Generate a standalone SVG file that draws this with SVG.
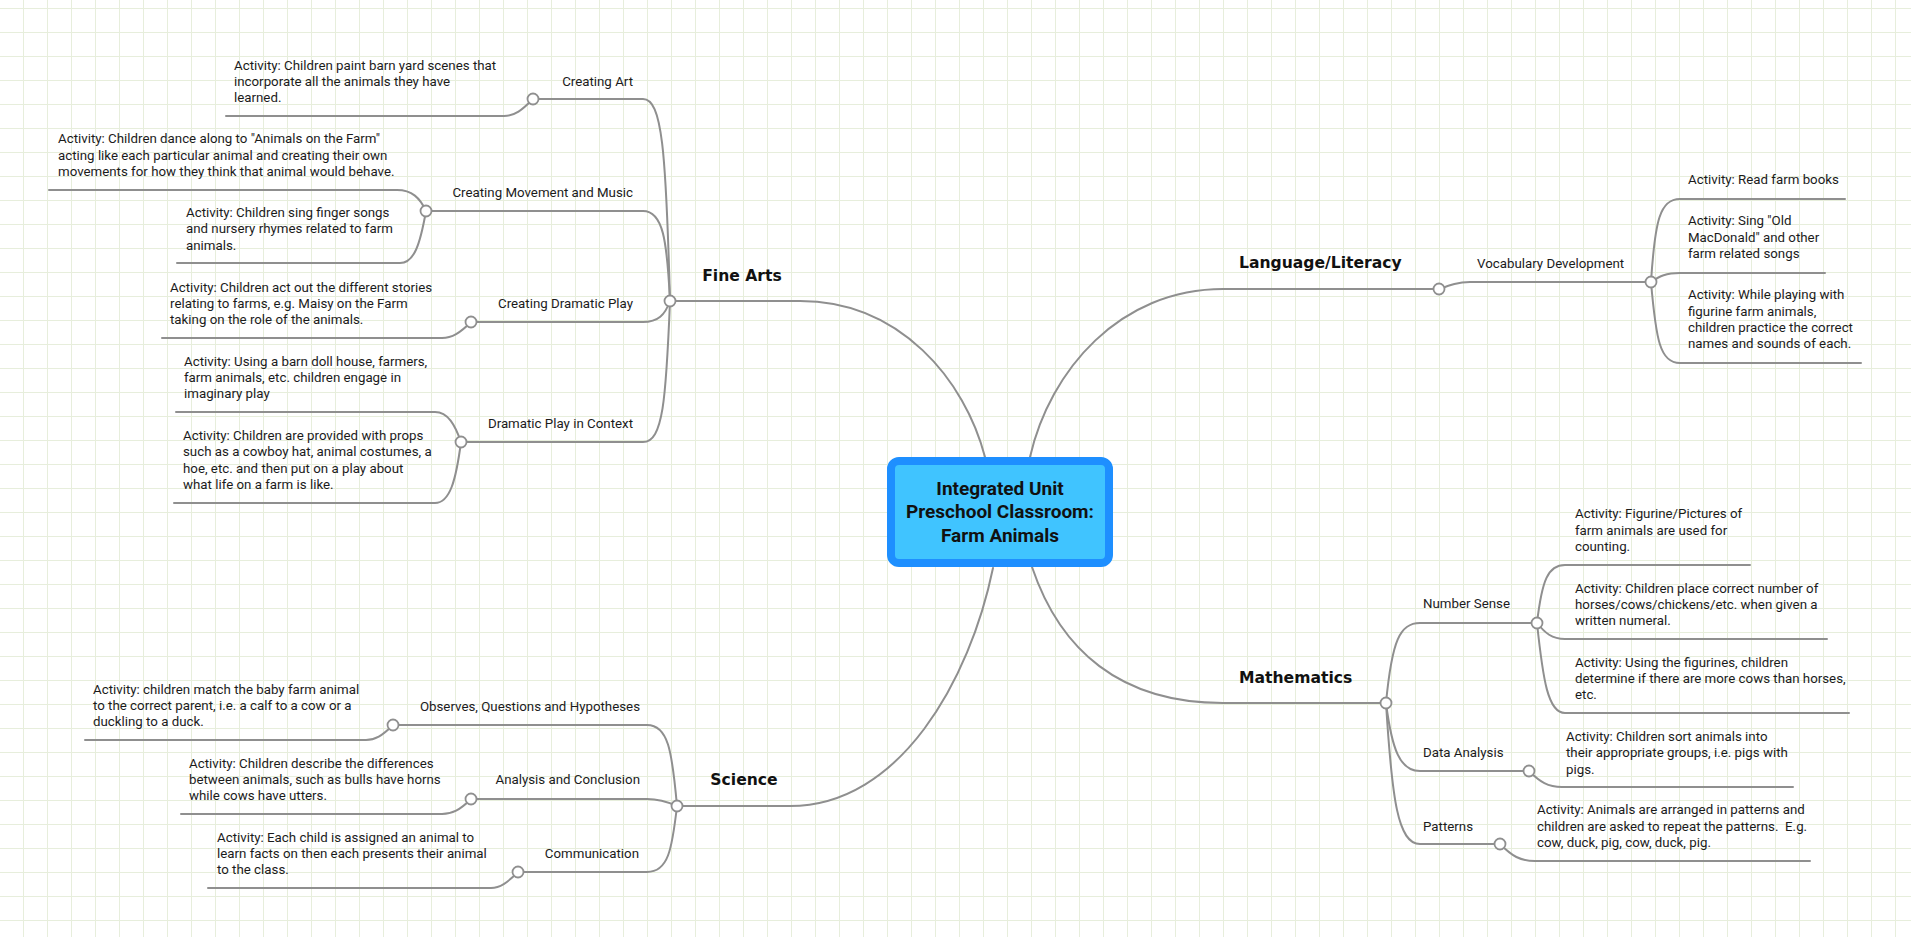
<svg xmlns="http://www.w3.org/2000/svg" width="1911" height="937" viewBox="0 0 1911 937">
<style>
.c{fill:none;stroke:#8f8f8f;stroke-width:2;stroke-linecap:round}
.k{fill:#fff;stroke:#8f8f8f;stroke-width:1.8}
.t{font-family:Roboto,"Liberation Sans",sans-serif;font-size:13.3px;fill:#1b1b1b}
.e{text-anchor:end}
.b{font-family:"DejaVu Sans","Liberation Sans",sans-serif;font-weight:bold;font-size:15.6px;fill:#111}
.r{font-family:Roboto,"Liberation Sans",sans-serif;font-weight:bold;font-size:19px;fill:#111;text-anchor:middle}
</style>
<defs>
<pattern id="grid" width="24" height="24" patternUnits="userSpaceOnUse" x="23" y="8">
<rect x="0" y="0" width="24" height="1" fill="#e7eedc"/>
<rect x="0" y="0" width="1" height="24" fill="#e7eedc"/>
</pattern>
</defs>
<rect width="1911" height="937" fill="#fff"/>
<rect width="1911" height="937" fill="url(#grid)"/>

<g id="connectors">
<path class="c" d="M670 301 H800 C900 301 965 380 985 457"/>
<path class="c" d="M677 806 H790 C900 806 970 680 993 568"/>
<path class="c" d="M1030 457 C1050 370 1120 289 1223 289 H1439"/>
<path class="c" d="M1032 567 C1060 650 1120 703 1223 703 H1386"/>

<path class="c" d="M670 301 C666 150 662 99 643 99 H533"/>
<path class="c" d="M533 99 C522 110 515 116 504 116 H226"/>
<path class="c" d="M670 301 C667 240 663 211 643 211 H426"/>
<path class="c" d="M426 211 C420 198 412 190 397 190 H49"/>
<path class="c" d="M426 211 C420 245 414 263 400 263 H177"/>
<path class="c" d="M670 301 C665 315 658 322 643 322 H471"/>
<path class="c" d="M471 322 C460 333 452 338 442 338 H162"/>
<path class="c" d="M670 301 C666 400 663 442 643 442 H461"/>
<path class="c" d="M461 442 C455 425 448 412 435 412 H176"/>
<path class="c" d="M461 442 C456 480 450 503 435 503 H174"/>

<path class="c" d="M677 806 C672 750 668 725 647 725 H393"/>
<path class="c" d="M393 725 C382 736 375 740 366 740 H85"/>
<path class="c" d="M677 806 C668 802 660 799 647 799 H471"/>
<path class="c" d="M471 799 C460 810 452 814 442 814 H181"/>
<path class="c" d="M677 806 C672 850 668 872 647 872 H518"/>
<path class="c" d="M518 872 C507 883 500 888 491 888 H208"/>

<path class="c" d="M1439 289 C1450 285 1458 282 1470 282 H1651"/>
<path class="c" d="M1651 282 C1655 220 1660 199 1680 199 H1845"/>
<path class="c" d="M1651 282 C1660 276 1666 273 1680 273 H1825"/>
<path class="c" d="M1651 282 C1656 340 1660 363 1680 363 H1861"/>

<path class="c" d="M1386 703 C1392 640 1400 623 1420 623 H1537"/>
<path class="c" d="M1386 703 C1392 750 1400 771 1420 771 H1529"/>
<path class="c" d="M1386 703 C1392 800 1398 844 1420 844 H1500"/>
<path class="c" d="M1537 623 C1542 580 1548 565 1565 565 H1750"/>
<path class="c" d="M1537 623 C1545 633 1552 639 1565 639 H1827"/>
<path class="c" d="M1537 623 C1543 680 1548 713 1565 713 H1849"/>
<path class="c" d="M1529 771 C1540 782 1548 787 1562 787 H1793"/>
<path class="c" d="M1500 844 C1512 856 1520 861 1535 861 H1810"/>
</g>

<g id="node-root">
<rect x="891" y="461" width="218" height="102" rx="8" fill="#40c4ff" stroke="#1e8fff" stroke-width="8"/>
<text class="r" x="1000" y="495">Integrated Unit</text>
<text class="r" x="1000" y="518">Preschool Classroom:</text>
<text class="r" x="1000" y="542">Farm Animals</text>
</g>

<g id="node-fine-arts">
<text class="b" x="742" y="281" text-anchor="middle">Fine Arts</text>
<circle class="k" cx="670" cy="301" r="5.5"/>
</g>
<g id="node-creating-art">
<text class="t e" x="633" y="86">Creating Art</text>
<circle class="k" cx="533" cy="99" r="5.5"/>
</g>
<g id="node-art-activity">
<text class="t" x="234" y="70">Activity: Children paint barn yard scenes that</text>
<text class="t" x="234" y="86">incorporate all the animals they have</text>
<text class="t" x="234" y="102">learned.</text>
</g>
<g id="node-movement">
<text class="t e" x="633" y="197">Creating Movement and Music</text>
<circle class="k" cx="426" cy="211" r="5.5"/>
</g>
<g id="node-movement-activity-1">
<text class="t" x="58" y="143">Activity: Children dance along to "Animals on the Farm"</text>
<text class="t" x="58" y="160">acting like each particular animal and creating their own</text>
<text class="t" x="58" y="176">movements for how they think that animal would behave.</text>
</g>
<g id="node-movement-activity-2">
<text class="t" x="186" y="217">Activity: Children sing finger songs</text>
<text class="t" x="186" y="233">and nursery rhymes related to farm</text>
<text class="t" x="186" y="249.5">animals.</text>
</g>
<g id="node-dramatic">
<text class="t e" x="633" y="308">Creating Dramatic Play</text>
<circle class="k" cx="471" cy="322" r="5.5"/>
</g>
<g id="node-dramatic-activity">
<text class="t" x="170" y="292">Activity: Children act out the different stories</text>
<text class="t" x="170" y="308">relating to farms, e.g. Maisy on the Farm</text>
<text class="t" x="170" y="324">taking on the role of the animals.</text>
</g>
<g id="node-context">
<text class="t e" x="633" y="428">Dramatic Play in Context</text>
<circle class="k" cx="461" cy="442" r="5.5"/>
</g>
<g id="node-context-activity-1">
<text class="t" x="184" y="366">Activity: Using a barn doll house, farmers,</text>
<text class="t" x="184" y="382">farm animals, etc. children engage in</text>
<text class="t" x="184" y="398">imaginary play</text>
</g>
<g id="node-context-activity-2">
<text class="t" x="183" y="440">Activity: Children are provided with props</text>
<text class="t" x="183" y="456">such as a cowboy hat, animal costumes, a</text>
<text class="t" x="183" y="472.5">hoe, etc. and then put on a play about</text>
<text class="t" x="183" y="489">what life on a farm is like.</text>
</g>

<g id="node-science">
<text class="b" x="744" y="785" text-anchor="middle">Science</text>
<circle class="k" cx="677" cy="806" r="5.5"/>
</g>
<g id="node-observes">
<text class="t e" x="640" y="711">Observes, Questions and Hypotheses</text>
<circle class="k" cx="393" cy="725" r="5.5"/>
</g>
<g id="node-observes-activity">
<text class="t" x="93" y="694">Activity: children match the baby farm animal</text>
<text class="t" x="93" y="710">to the correct parent, i.e. a calf to a cow or a</text>
<text class="t" x="93" y="726">duckling to a duck.</text>
</g>
<g id="node-analysis">
<text class="t e" x="640" y="784">Analysis and Conclusion</text>
<circle class="k" cx="471" cy="799" r="5.5"/>
</g>
<g id="node-analysis-activity">
<text class="t" x="189" y="768">Activity: Children describe the differences</text>
<text class="t" x="189" y="784">between animals, such as bulls have horns</text>
<text class="t" x="189" y="800">while cows have utters.</text>
</g>
<g id="node-communication">
<text class="t e" x="639" y="858">Communication</text>
<circle class="k" cx="518" cy="872" r="5.5"/>
</g>
<g id="node-communication-activity">
<text class="t" x="217" y="842">Activity: Each child is assigned an animal to</text>
<text class="t" x="217" y="858">learn facts on then each presents their animal</text>
<text class="t" x="217" y="874">to the class.</text>
</g>

<g id="node-language">
<text class="b" x="1239" y="268">Language/Literacy</text>
<circle class="k" cx="1439" cy="289" r="5.5"/>
</g>
<g id="node-vocabulary">
<text class="t" x="1477" y="268">Vocabulary Development</text>
<circle class="k" cx="1651" cy="282" r="5.5"/>
</g>
<g id="node-vocab-activity-1">
<text class="t" x="1688" y="184">Activity: Read farm books</text>
</g>
<g id="node-vocab-activity-2">
<text class="t" x="1688" y="225">Activity: Sing "Old</text>
<text class="t" x="1688" y="241.5">MacDonald" and other</text>
<text class="t" x="1688" y="258">farm related songs</text>
</g>
<g id="node-vocab-activity-3">
<text class="t" x="1688" y="299">Activity: While playing with</text>
<text class="t" x="1688" y="315.5">figurine farm animals,</text>
<text class="t" x="1688" y="332">children practice the correct</text>
<text class="t" x="1688" y="348">names and sounds of each.</text>
</g>

<g id="node-mathematics">
<text class="b" x="1239" y="683">Mathematics</text>
<circle class="k" cx="1386" cy="703" r="5.5"/>
</g>
<g id="node-number-sense">
<text class="t" x="1423" y="608">Number Sense</text>
<circle class="k" cx="1537" cy="623" r="5.5"/>
</g>
<g id="node-number-activity-1">
<text class="t" x="1575" y="518">Activity: Figurine/Pictures of</text>
<text class="t" x="1575" y="534.5">farm animals are used for</text>
<text class="t" x="1575" y="551">counting.</text>
</g>
<g id="node-number-activity-2">
<text class="t" x="1575" y="593">Activity: Children place correct number of</text>
<text class="t" x="1575" y="609">horses/cows/chickens/etc. when given a</text>
<text class="t" x="1575" y="625">written numeral.</text>
</g>
<g id="node-number-activity-3">
<text class="t" x="1575" y="667">Activity: Using the figurines, children</text>
<text class="t" x="1575" y="683">determine if there are more cows than horses,</text>
<text class="t" x="1575" y="699">etc.</text>
</g>
<g id="node-data-analysis">
<text class="t" x="1423" y="757">Data Analysis</text>
<circle class="k" cx="1529" cy="771" r="5.5"/>
</g>
<g id="node-data-activity">
<text class="t" x="1566" y="741">Activity: Children sort animals into</text>
<text class="t" x="1566" y="757">their appropriate groups, i.e. pigs with</text>
<text class="t" x="1566" y="774">pigs.</text>
</g>
<g id="node-patterns">
<text class="t" x="1423" y="831">Patterns</text>
<circle class="k" cx="1500" cy="844" r="5.5"/>
</g>
<g id="node-patterns-activity">
<text class="t" x="1537" y="814">Activity: Animals are arranged in patterns and</text>
<text class="t" x="1537" y="831" style="white-space:pre">children are asked to repeat the patterns.  E.g.</text>
<text class="t" x="1537" y="847">cow, duck, pig, cow, duck, pig.</text>
</g>
</svg>
